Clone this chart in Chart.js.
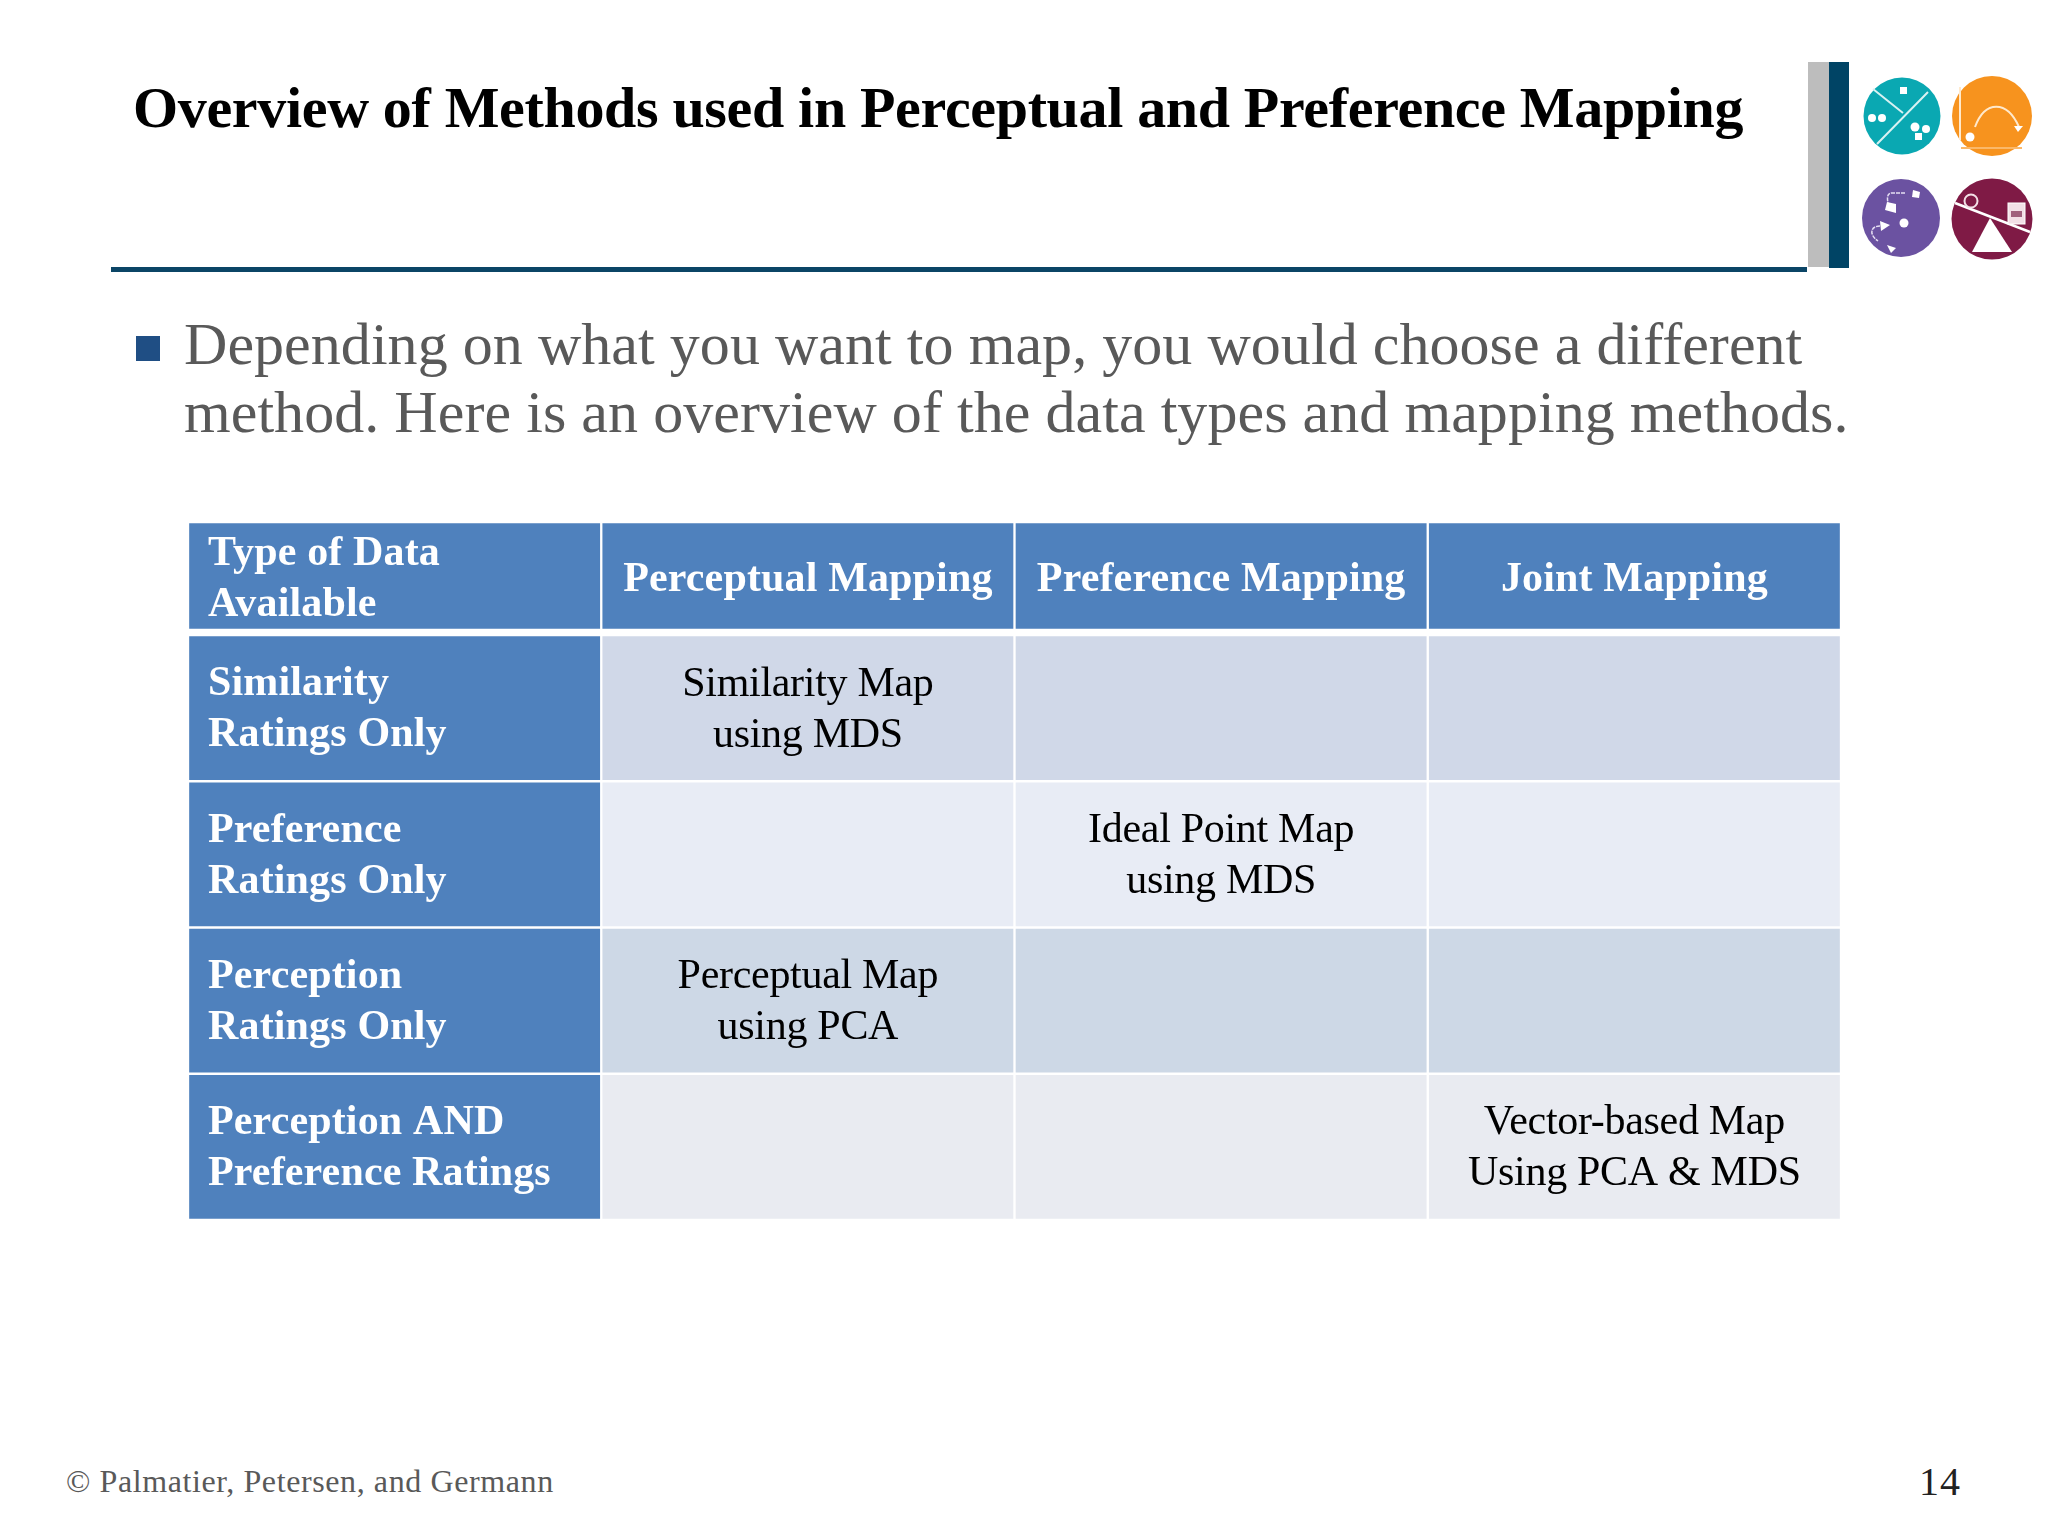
<!DOCTYPE html>
<html>
<head>
<meta charset="utf-8">
<title>Overview of Methods</title>
<script src="https://cdn.jsdelivr.net/npm/chart.js@4/dist/chart.umd.min.js"></script>
<style>
    html, body { margin: 0; padding: 0; background: #fff; }
    body { width: 2048px; height: 1536px; position: relative; overflow: hidden; font-family: "Liberation Serif", serif; }
    .abs { position: absolute; white-space: nowrap; }
    canvas { position: absolute; }
    #title { left: 133px; top: 76px; font-size: 58px; line-height: 64px; font-weight: bold; color: #000; letter-spacing: -0.33px; }
    #bullet { left: 184px; top: 310px; font-size: 60px; line-height: 68px; color: #595959; letter-spacing: 0.05px; }
    #footer { left: 66px; top: 1463px; font-size: 32px; line-height: 36px; color: #595959; letter-spacing: 0.6px; }
    #page { left: 1919px; top: 1458px; font-size: 40px; line-height: 48px; color: #222; letter-spacing: 1px; }
</style>
</head>
<body>
<div class="abs" id="title">Overview of Methods used in Perceptual and Preference Mapping</div>
<div class="abs" style="left:111px;top:267px;width:1696px;height:5px;background:#0b4566"></div>
<div class="abs" style="left:1808px;top:62px;width:21px;height:205px;background:#bdbdbd"></div>
<div class="abs" style="left:1829px;top:62px;width:20px;height:206px;background:#004465"></div>

<svg class="abs" style="left:1860px;top:70px" width="188" height="196" viewBox="1860 70 188 196">
    <circle cx="1902" cy="116" r="38.5" fill="#0aa8b2"/>
    <g stroke="#d8f2f2" stroke-width="2" fill="none">
        <path d="M1873 89L1903 113M1928 92L1877 144"/>
    </g>
    <g fill="#fff">
        <rect x="1900" y="87" width="7" height="7"/>
        <circle cx="1872" cy="118" r="4"/><circle cx="1882" cy="118" r="4"/>
        <circle cx="1915" cy="127" r="4.5"/><circle cx="1926" cy="129" r="4"/>
        <rect x="1915" y="133" width="7" height="7"/>
    </g>
    <circle cx="1992" cy="116" r="40" fill="#f7931e"/>
    <g stroke="#ffe9cc" fill="none" stroke-width="2">
        <path d="M1960 87V140"/><path d="M1975 127C1985 100 2007 100 2019 127"/>
    </g>
    <path d="M1961 148H2022" stroke="#fbb868" stroke-width="2"/>
    <circle cx="1970" cy="137" r="4.5" fill="#fff"/>
    <path d="M2014 126L2023 126L2018 132Z" fill="#fff"/>
    <circle cx="1901" cy="218" r="39" fill="#6b52a1"/>
    <g stroke="#e5def2" fill="none" stroke-width="1.5" stroke-dasharray="4 1">
        <path d="M1905 193H1892C1887 193 1887 198 1888 203"/><path d="M1880 226C1870 226 1869 235 1878 241"/>
    </g>
    <g fill="#fff">
        <path d="M1913 190L1920 192L1919 198L1912 197Z"/>
        <path d="M1887 202L1896 204L1896 213L1885 210Z"/>
        <path d="M1880 221L1890 225L1881 231Z"/>
        <circle cx="1904" cy="223" r="4.5"/>
        <path d="M1887 245L1896 248L1891 253Z"/>
    </g>
    <circle cx="1992" cy="219" r="40.5" fill="#7f1a45"/>
    <path d="M1955 203L2030 232" stroke="#fff" stroke-width="2.5"/>
    <path d="M1990 218L2012 252H1972Z" fill="#fff"/>
    <circle cx="1971" cy="201" r="6.5" fill="none" stroke="#f2dfe6" stroke-width="2"/>
    <rect x="2008" y="203" width="17" height="21" fill="#f2dfe6" stroke="#fff"/>
    <rect x="2011" y="211" width="11" height="6" fill="#a0607c"/>
</svg>

<div class="abs" style="left:136px;top:336px;width:24px;height:25px;background:#1f4e84"></div>
<div class="abs" id="bullet">Depending on what you want to map, you would choose a different<br>method. Here is an overview of the data types and mapping methods.</div>

<canvas id="headerChart" width="1653" height="108" style="left:188px;top:522px"></canvas>
<canvas id="bodyChart" width="1653" height="585" style="left:188px;top:635px"></canvas>

<div class="abs" id="footer">© Palmatier, Petersen, and Germann</div>
<div class="abs" id="page">14</div>

<script>
// table text, row by row
const columnHeaders = ['Type of Data\nAvailable', 'Perceptual Mapping', 'Preference Mapping', 'Joint Mapping'];
const rowLabels = ['Similarity\nRatings Only', 'Preference\nRatings Only', 'Perception\nRatings Only', 'Perception AND\nPreference Ratings'];
const perceptualCells = ['Similarity Map\nusing MDS', '', 'Perceptual Map\nusing PCA', ''];
const preferenceCells = ['', 'Ideal Point Map\nusing MDS', '', ''];
const jointCells = ['', '', '', 'Vector-based Map\nUsing PCA & MDS'];

// every column gets the same share of a row
const labelShare = [1, 1, 1, 1];
const perceptualShare = [1, 1, 1, 1];
const preferenceShare = [1, 1, 1, 1];
const jointShare = [1, 1, 1, 1];

const headerBlue = '#4f81bd';
const rowColors = ['#d0d8e8', '#e8ecf5', '#cdd8e6', '#e9ebf1'];

// draws the text held in dataset.cellText inside each bar
const cellTextPlugin = {
    id: 'cellText',
    afterDatasetsDraw(chart) {
        const ctx = chart.ctx;
        const opts = chart.options.plugins.cellText;
        const lineHeight = 51;
        chart.data.datasets.forEach((dataset, d) => {
            chart.getDatasetMeta(d).data.forEach((bar, r) => {
                const text = dataset.cellText[r];
                if (!text) return;
                const lines = text.split('\n');
                const bold = opts.allBold || d === 0;
                ctx.save();
                ctx.font = (bold ? 'bold ' : '') + '42px "Liberation Serif"';
                ctx.letterSpacing = bold ? '0.15px' : '-0.3px';
                ctx.fillStyle = bold ? '#fff' : '#000';
                ctx.textBaseline = 'middle';
                ctx.textAlign = d === 0 ? 'left' : 'center';
                const x = d === 0 ? bar.base + 20 : (bar.base + bar.x) / 2;
                lines.forEach((line, i) => {
                    ctx.fillText(line, x, bar.y + opts.nudge + (i - (lines.length - 1) / 2) * lineHeight);
                });
                ctx.restore();
            });
        });
    }
};

function tableOptions(allBold, nudge) {
    return {
        indexAxis: 'y',
        responsive: false,
        animation: false,
        layout: { padding: 0 },
        plugins: {
            legend: { display: false },
            tooltip: { enabled: false },
            cellText: { allBold: allBold, nudge: nudge }
        },
        scales: {
            x: { stacked: true, min: 0, max: 4, display: false },
            y: { stacked: true, display: false }
        }
    };
}

function column(share, fill, cellText) {
    return {
        data: share,
        cellText: cellText,
        backgroundColor: fill,
        borderColor: '#fff',
        borderWidth: 1.5,
        borderSkipped: false,
        categoryPercentage: 1,
        barPercentage: 1
    };
}

new Chart(document.getElementById('headerChart').getContext('2d'), {
    type: 'bar',
    data: {
        labels: ['Header'],
        datasets: columnHeaders.map((h) => column([1], headerBlue, [h]))
    },
    options: tableOptions(true, 4),
    plugins: [cellTextPlugin]
});

new Chart(document.getElementById('bodyChart').getContext('2d'), {
    type: 'bar',
    data: {
        labels: rowLabels,
        datasets: [
            column(labelShare, headerBlue, rowLabels),
            column(perceptualShare, rowColors, perceptualCells),
            column(preferenceShare, rowColors, preferenceCells),
            column(jointShare, rowColors, jointCells)
        ]
    },
    options: tableOptions(false, 2),
    plugins: [cellTextPlugin]
});
</script>
</body>
</html>
